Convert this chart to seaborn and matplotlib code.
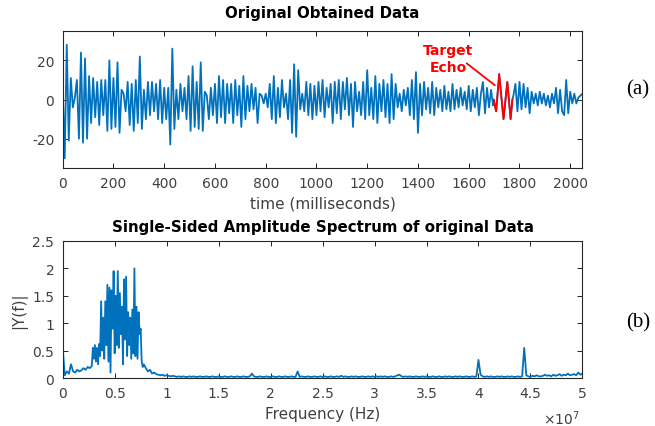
import numpy as np
import pandas as pd
import matplotlib
matplotlib.use("Agg")
import matplotlib.pyplot as plt
import seaborn as sns
from matplotlib.ticker import FuncFormatter

# ---------------- data ----------------
# time signal, sampled every 8 ms (extrema read from the picture)
sig_step_ms = 8
signal_0_992 = [
    6, -30, 28, -21, 11, -4, 1, 10, -20, 24,
    -22, 21, -20, 12, -12, 11, -9, 9, -13, 10,
    -8, 10, -16, 20, -15, 11, -14, 19, -17, 5,
    3, -6, 9, -13, 8, -16, 10, -12, 22, -15,
    5, -10, 9, -8, 9, -6, 8, -10, 10, -12,
    6, -10, 6, -23, 26, -15, 5, -10, 8, -6,
    6, -10, 12, -16, 17, -14, 9, -15, 19, -16,
    4, 2, -10, 6, -8, 8, -12, 12, -9, 10,
    -12, 8, -7, 8, -12, 10, -8, 7, -14, 12,
    -10, 7, -6, 8, -5, 6, -12, 3, 2, -2,
    3, -4, 8, -10, 12, -12, 6, -9, 10, -4,
    3, -10, 10, -17, 18, -19, 15, -5, 3, -6,
    9, -8, 8, -10, 7,
]
signal_1000_2048 = [
    -8, 9, -6, 10, -9, 6, -4, 8, -12, 9,
    -7, 10, -10, 9, -5, 11, -8, 8, -14, 9,
    -6, 4, -8, 9, -10, 15, -8, 6, -10, 12,
    -12, 8, -6, 10, -9, 8, -12, 13, -10, 8,
    -4, 3, -6, 5, -3, 6, -8, 10, -10, 14,
    -17, 8, -8, 9, -5, 6, -7, 9, -8, 6,
    -4, 5, -6, 7, -5, 4, -6, 8, -5, 5,
    -4, 6, -3, 4, -5, 7, -6, 5, -4, 6,
    -8, 3, 9, -7, 6, -4, 5, -3, -3, -5,
    13, 0, -10, 2, 8, -3, -10, 2, 8, -6,
    9, -5, 8, -4, 6, -7, 4, -2, 3, -3,
    4, -2, 3, -3, 2, -4, 3, -2, 6, -7,
    5, -6, -8, 10, -7, 4, -2, 3, -2, 1,
    2, 3,
]
# target echo (red part)
echo_t = [1698, 1708, 1720, 1737, 1752, 1765, 1772]
echo_v = [0, -6, 13, -10, 9, -10, 0]

# spectrum (|Y(f)|), frequency in units of 1e7 Hz
spec_a_start, spec_a_step = 0.0, 0.02
spec_a = [0.55, 0.05, 0.12, 0.08, 0.25, 0.12, 0.10, 0.15, 0.12, 0.14,
          0.18, 0.15, 0.20, 0.18, 0.22]
spec_b_start, spec_b_step = 0.29, 0.01
spec_b = [0.55, 0.35, 0.60, 0.30, 0.55, 0.25, 0.62, 0.40, 1.40, 0.50,
          1.10, 0.35, 1.40, 0.60, 1.70, 0.30, 1.65, 0.10, 1.60, 0.90,
          1.95, 0.45, 1.50, 0.60, 1.95, 0.55, 1.55, 0.80, 1.30, 0.25,
          1.80, 0.70, 1.85, 0.40, 1.20, 0.60, 1.10, 0.35, 1.25, 0.45,
          2.00, 0.40, 1.30, 0.35, 1.20, 0.80, 0.90, 0.30, 0.20, 0.25]
spec_c_start, spec_c_step = 0.80, 0.02
spec_c = [0.18, 0.12, 0.15, 0.08, 0.10, 0.07, 0.06, 0.05, 0.06, 0.04]
spec_d_start, spec_d_step = 1.00, 0.02
spec_d = [
    0.05, 0.04, 0.03, 0.04, 0.03, 0.02, 0.03, 0.02, 0.03, 0.02,
    0.02, 0.03, 0.02, 0.03, 0.02, 0.02, 0.03, 0.02, 0.02, 0.03,
    0.02, 0.02, 0.03, 0.02, 0.02, 0.03, 0.02, 0.02, 0.03, 0.02,
    0.02, 0.03, 0.02, 0.02, 0.03, 0.02, 0.02, 0.03, 0.02, 0.02,
    0.03, 0.08, 0.03, 0.02, 0.02, 0.03, 0.02, 0.02, 0.03, 0.02,
    0.02, 0.03, 0.02, 0.02, 0.03, 0.02, 0.02, 0.03, 0.02, 0.02,
    0.03, 0.02, 0.02, 0.12, 0.02, 0.03, 0.02, 0.02, 0.03, 0.02,
    0.02, 0.03, 0.02, 0.02, 0.03, 0.02, 0.03, 0.02, 0.02, 0.03,
    0.02, 0.02, 0.03, 0.02, 0.04, 0.02, 0.03, 0.02, 0.02, 0.03,
    0.02, 0.03, 0.02, 0.02, 0.03, 0.02, 0.02, 0.03, 0.02, 0.03,
    0.02, 0.03, 0.02, 0.03, 0.02, 0.03, 0.02, 0.02, 0.03, 0.02,
    0.03, 0.05, 0.06, 0.03, 0.02, 0.03, 0.02, 0.03, 0.02, 0.02,
    0.03, 0.02, 0.02, 0.03, 0.02, 0.03, 0.02, 0.02, 0.03, 0.02,
    0.02, 0.03, 0.02, 0.02, 0.03, 0.02, 0.03, 0.02, 0.02, 0.03,
    0.02, 0.03, 0.02, 0.02, 0.03, 0.02, 0.02, 0.03, 0.02, 0.03,
    0.33, 0.06, 0.03, 0.02, 0.03, 0.02, 0.03, 0.02, 0.02, 0.03,
    0.02, 0.03, 0.02, 0.02, 0.03, 0.02, 0.03, 0.02, 0.02, 0.03,
    0.02, 0.03, 0.55, 0.05, 0.03, 0.02, 0.04, 0.03, 0.05, 0.03,
    0.03, 0.04, 0.06, 0.04, 0.05, 0.03, 0.06, 0.04, 0.05, 0.07,
    0.04, 0.06, 0.05, 0.08, 0.05, 0.06, 0.07, 0.05, 0.10, 0.06,
    0.08,
]

time_ticks = list(range(0, 2001, 200))
amp_ticks = [-20, 0, 20]
freq_ticks = [0, 0.5, 1, 1.5, 2, 2.5, 3, 3.5, 4, 4.5, 5]
mag_ticks = [0, 0.5, 1, 1.5, 2, 2.5]

# ---------------- build tables ----------------
sig_vals = np.array(signal_0_992 + signal_1000_2048, dtype=float)
sig_t = np.arange(len(sig_vals)) * sig_step_ms
keep_before = sig_t < echo_t[0]
keep_after = sig_t > echo_t[-1]
full_t = np.concatenate([sig_t[keep_before], echo_t, sig_t[keep_after]])
full_v = np.concatenate([sig_vals[keep_before], echo_v, sig_vals[keep_after]])
df_sig = pd.DataFrame({"t": full_t, "v": full_v})
df_echo = pd.DataFrame({"t": echo_t, "v": echo_v})

def seg(start, step, vals):
    return start + step * np.arange(len(vals))

spec_f = np.concatenate([seg(spec_a_start, spec_a_step, spec_a),
                         seg(spec_b_start, spec_b_step, spec_b),
                         seg(spec_c_start, spec_c_step, spec_c),
                         seg(spec_d_start, spec_d_step, spec_d)]) * 1e7
spec_v = np.array(spec_a + spec_b + spec_c + spec_d)
df_spec = pd.DataFrame({"f": spec_f, "m": spec_v})

# ---------------- plot ----------------
sns.set_theme(style="white")
plt.rcParams["font.family"] = ["DejaVu Sans"]
plt.rcParams["axes.unicode_minus"] = False

blue = "#0072BD"
edge = "#262626"
tick_col = "#404040"

fig = plt.figure(figsize=(6.55, 4.27), dpi=100)
ax1 = fig.add_axes([0.0957, 0.604, 0.7935, 0.321])
ax2 = fig.add_axes([0.0957, 0.1124, 0.7935, 0.321])

sns.lineplot(data=df_sig, x="t", y="v", ax=ax1, color=blue, lw=1.3,
             estimator=None, sort=False)
sns.lineplot(data=df_echo, x="t", y="v", ax=ax1, color="#FF0000", lw=1.3,
             estimator=None, sort=False)
sns.lineplot(data=df_spec, x="f", y="m", ax=ax2, color=blue, lw=1.3,
             estimator=None, sort=False)

ax1.set_xlim(0, 2048)
ax1.set_ylim(-35, 35)
ax1.set_xticks(time_ticks)
ax1.set_yticks(amp_ticks)
ax1.set_title("Original Obtained Data", fontsize=10.8, fontweight="bold",
              color="black", pad=10)
ax1.set_xlabel("time (milliseconds)", fontsize=11, color=tick_col, labelpad=4)
ax1.set_ylabel("")

ax2.set_xlim(0, 5e7)
ax2.set_ylim(0, 2.5)
ax2.set_xticks([v * 1e7 for v in freq_ticks])
ax2.xaxis.set_major_formatter(FuncFormatter(lambda x, p: f"{x/1e7:g}"))
ax2.set_yticks(mag_ticks)
ax2.yaxis.set_major_formatter(FuncFormatter(lambda y, p: f"{y:g}"))
ax2.set_title("Single-Sided Amplitude Spectrum of original Data", fontsize=10.8,
              fontweight="bold", color="black", pad=7)
ax2.set_xlabel("Frequency (Hz)", fontsize=11, color=tick_col, labelpad=4)
ax2.set_ylabel("|Y(f)|", fontsize=11, color=tick_col, labelpad=4)
ax2.text(0.96, -0.29, r"$\times\mathregular{10^{7}}$", transform=ax2.transAxes,
         ha="center", va="center", fontsize=10, color=tick_col)

for ax in (ax1, ax2):
    for s in ax.spines.values():
        s.set_color(edge)
        s.set_linewidth(0.8)
        s.set_visible(True)
    ax.tick_params(direction="in", length=3.5, width=0.7, colors=edge,
                   labelcolor=tick_col, labelsize=10, top=True, right=True,
                   bottom=True, left=True, pad=6)

# annotation
ax1.text(1518, 21, "Target\nEcho", color="#FF0000", fontsize=10,
         fontweight="bold", ha="center", va="center", linespacing=1.35)
ax1.plot([1592, 1703], [18.5, 7.3], color="#FF0000", lw=1.3)

fig.text(0.974, 0.789, "(a)", fontsize=15, family="Liberation Serif",
         ha="center", va="center", color="black")
fig.text(0.974, 0.243, "(b)", fontsize=15, family="Liberation Serif",
         ha="center", va="center", color="black")

fig.savefig("out.png", dpi=100)
